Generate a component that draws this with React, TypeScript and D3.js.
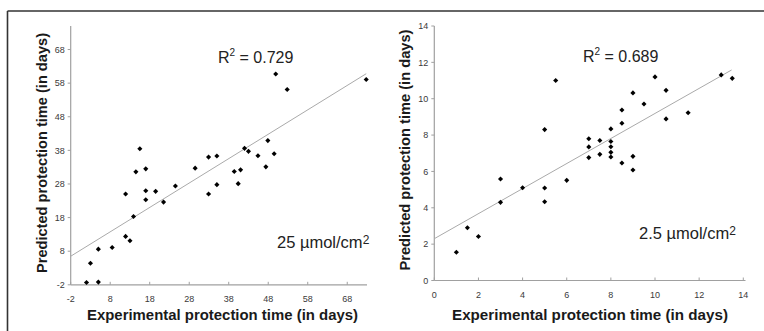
import React from "react";
import * as d3 from "d3";

// ---- Data: 25 µmol/cm² panel ----
const leftExperimental = [2.0, 5.0, 3.0, 5.0, 8.5, 11.9, 13.0, 13.9, 11.9, 14.5, 15.5, 17.0, 17.0, 17.0, 19.5, 21.5, 24.5, 29.5, 32.9, 35.0, 32.9, 35.0, 39.4, 41.0, 40.4, 42.0, 43.0, 45.4, 47.4, 47.9, 49.5, 49.9, 52.8, 72.8];
const leftPredicted = [-1.3, -1.2, 4.4, 8.6, 9.1, 12.4, 11.1, 18.3, 25.0, 31.6, 38.5, 32.5, 26.0, 23.3, 25.8, 22.6, 27.4, 32.7, 36.0, 36.3, 25.0, 27.8, 31.7, 32.2, 28.1, 38.6, 37.7, 36.4, 33.1, 40.9, 37.0, 60.7, 56.1, 59.1];
const leftTicks = [-2, 8, 18, 28, 38, 48, 58, 68];
const leftFit = [7.95, 0.726]; // intercept, slope
const leftFitRange = [-2, 72.8];

// ---- Data: 2.5 µmol/cm² panel ----
const rightExperimental = [1.0, 1.5, 2.0, 3.0, 3.0, 4.0, 5.0, 5.0, 5.0, 5.5, 6.0, 7.0, 7.0, 7.0, 7.5, 7.5, 8.0, 8.0, 8.0, 8.0, 8.0, 8.5, 8.5, 8.5, 9.0, 9.0, 9.0, 9.5, 10.0, 10.5, 10.5, 11.5, 13.0, 13.5];
const rightPredicted = [1.55, 2.9, 2.42, 4.3, 5.58, 5.1, 4.33, 5.09, 8.3, 11.0, 5.51, 6.76, 7.35, 7.8, 6.94, 7.7, 6.79, 7.05, 7.36, 7.65, 8.34, 6.46, 8.65, 9.38, 6.08, 6.83, 10.32, 9.71, 11.2, 8.89, 10.46, 9.23, 11.31, 11.12];
const rightTicks = [0, 2, 4, 6, 8, 10, 12, 14];
const rightFit = [2.3, 0.689];
const rightFitRange = [0, 13.47];

const xTitle = "Experimental protection time (in days)";
const yTitle = "Predicted protection time (in days)";

const FONT = "'Liberation Sans', Arial, Helvetica, sans-serif";

type PanelProps = {
  xs: number[];
  ys: number[];
  ticks: number[];
  fit: number[];
  fitRange: number[];
  xDomain: [number, number];
  yDomain: [number, number];
  xRange: [number, number];
  yRange: [number, number];
  r2: string;
  r2X: number;
  r2Y: number;
  conc: string;
  concX: number;
  concY: number;
  yTitleX: number;
  yTitleY: number;
  yTitleLen: number;
  xTitleX: number;
  xTitleLen: number;
};

function Panel(p: PanelProps) {
  const x = d3.scaleLinear().domain(p.xDomain).range(p.xRange);
  const y = d3.scaleLinear().domain(p.yDomain).range(p.yRange);
  const marker = d3.symbol().type(d3.symbolSquare).size(13)();
  const fitLine = d3
    .line<number>()
    .x((v) => x(v))
    .y((v) => y(p.fit[0] + p.fit[1] * v))(p.fitRange);
  const axisColor = "#a0a0a0";
  const x0 = p.xRange[0];
  const y0 = p.yRange[0];
  return (
    <g>
      {/* axes */}
      <line x1={x0} x2={p.xRange[1]} y1={y0} y2={y0} stroke={axisColor} strokeWidth={1.2} />
      <line x1={x0} x2={x0} y1={y0} y2={p.yRange[1]} stroke={axisColor} strokeWidth={1.2} />
      {p.ticks.map((t) => (
        <g key={"y" + t}>
          <line x1={x0 - 3} x2={x0} y1={y(t)} y2={y(t)} stroke={axisColor} />
          <text x={x0 - 6} y={y(t) + 3.2} textAnchor="end" fontSize={9} fill="#3a3a3a" fontFamily={FONT}>
            {t}
          </text>
        </g>
      ))}
      {p.ticks.map((t) => (
        <g key={"x" + t}>
          <line x1={x(t)} x2={x(t)} y1={y0} y2={y0 - 3} stroke={axisColor} />
          <text x={x(t)} y={y0 + 17} textAnchor="middle" fontSize={9} fill="#3a3a3a" fontFamily={FONT}>
            {t}
          </text>
        </g>
      ))}
      {/* regression line */}
      <path d={fitLine || ""} fill="none" stroke="#aaaaaa" strokeWidth={1} />
      {/* points */}
      {p.xs.map((v, i) => (
        <path key={i} d={marker || ""} transform={`translate(${x(v)},${y(p.ys[i])}) rotate(45)`} fill="#000" />
      ))}
      {/* annotations */}
      <text x={p.r2X} y={p.r2Y} fontSize={16} fill="#222" fontFamily={FONT}>
        R<tspan fontSize={10} dy={-7}>2</tspan>
        <tspan dy={7}> = {p.r2}</tspan>
      </text>
      <text x={p.concX} y={p.concY} fontSize={16.5} fill="#222" fontFamily={FONT}>
        {p.conc}
        <tspan fontSize={12} dy={-4}>2</tspan>
      </text>
      {/* titles */}
      <text
        x={p.xTitleX}
        y={319.5}
        fontSize={15.5}
        fontWeight="bold"
        fill="#1a1a1a"
        fontFamily={FONT}
        textLength={p.xTitleLen}
        lengthAdjust="spacingAndGlyphs"
      >
        {xTitle}
      </text>
      <text
        transform={`translate(${p.yTitleX},${p.yTitleY}) rotate(-90)`}
        textAnchor="middle"
        fontSize={15}
        fontWeight="bold"
        fill="#1a1a1a"
        fontFamily={FONT}
        textLength={p.yTitleLen}
        lengthAdjust="spacingAndGlyphs"
      >
        {yTitle}
      </text>
    </g>
  );
}

export default function App() {
  return (
    <svg
      width={764}
      height={331}
      viewBox="0 0 764 331"
      style={{ position: "absolute", left: 0, top: 0, display: "block", background: "#fff" }}
    >
      <rect x={0} y={0} width={764} height={331} fill="#fff" />
      {/* frame */}
      <line x1={7.5} x2={764} y1={11} y2={11} stroke="#333" strokeWidth={1.6} />
      <line x1={7.5} x2={7.5} y1={11} y2={331} stroke="#333" strokeWidth={1.6} />
      <Panel
        xs={leftExperimental}
        ys={leftPredicted}
        ticks={leftTicks}
        fit={leftFit}
        fitRange={leftFitRange}
        xDomain={[-2, 73]}
        yDomain={[-2, 75]}
        xRange={[70.7, 367]}
        yRange={[284.8, 26]}
        r2="0.729"
        r2X={218}
        r2Y={63}
        conc="25 µmol/cm"
        concX={277}
        concY={248}
        yTitleX={46.5}
        yTitleY={153}
        yTitleLen={240}
        xTitleX={87}
        xTitleLen={271}
      />
      <Panel
        xs={rightExperimental}
        ys={rightPredicted}
        ticks={rightTicks}
        fit={rightFit}
        fitRange={rightFitRange}
        xDomain={[0, 14.1]}
        yDomain={[0, 14]}
        xRange={[434.3, 745.5]}
        yRange={[280.5, 26]}
        r2="0.689"
        r2X={583}
        r2Y={62}
        conc="2.5 µmol/cm"
        concX={639}
        concY={239}
        yTitleX={410}
        yTitleY={150}
        yTitleLen={241}
        xTitleX={452}
        xTitleLen={276}
      />
    </svg>
  );
}
